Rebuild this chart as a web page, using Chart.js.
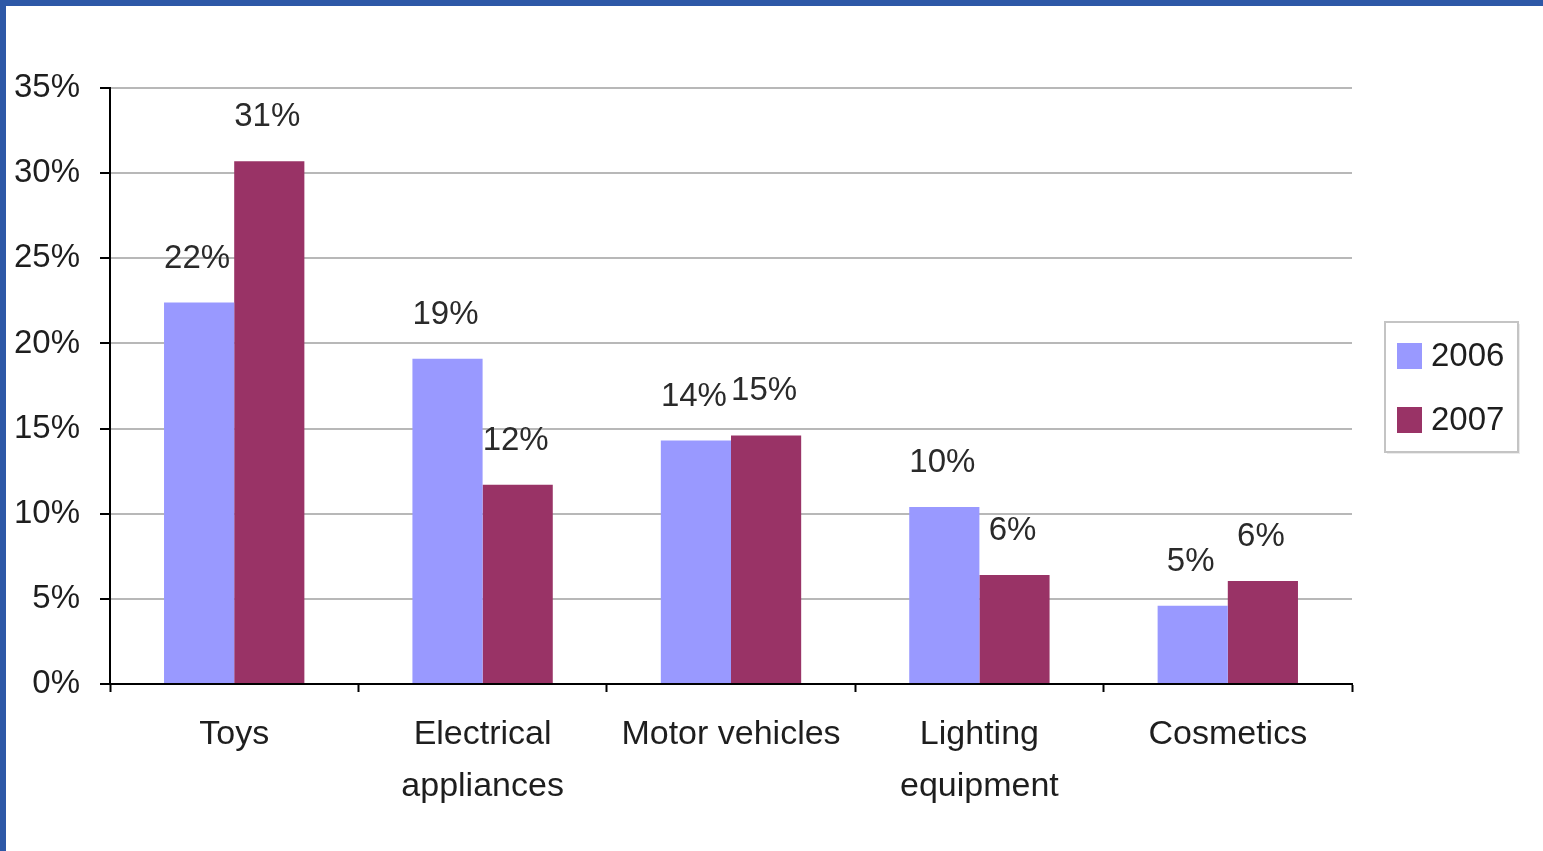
<!DOCTYPE html>
<html>
<head>
<meta charset="utf-8">
<script src="https://cdn.jsdelivr.net/npm/chart.js@4"></script>
<style>
  html, body { margin: 0; padding: 0; background: #fff; }
  #frame {
    width: 1537px; height: 845px;
    border-top: 6px solid #2d58a7;
    border-left: 6px solid #2d58a7;
    background: #fff;
  }
  canvas { display: block; }
</style>
</head>
<body>
<div id="frame"><canvas id="chart" width="1537" height="845"></canvas></div>
<script>
// categories and values
const categories = ["Toys", ["Electrical", "appliances"], "Motor vehicles", ["Lighting", "equipment"], "Cosmetics"];
const values2006 = [22.4, 19.1, 14.3, 10.4, 4.6];
const values2007 = [30.7, 11.7, 14.6, 6.4, 6.05];
const yTicks = [0, 5, 10, 15, 20, 25, 30, 35];

const FONT = "'Liberation Sans', Arial, sans-serif";

// Labels above each bar, e.g. "22%"
const barLabels = {
    id: 'barLabels',
    afterDatasetsDraw(chart) {
        const ctx = chart.ctx;
        ctx.save();
        ctx.font = '33px ' + FONT;
        ctx.fillStyle = '#2a2a2a';
        ctx.textAlign = 'center';
        ctx.textBaseline = 'middle';
        chart.data.datasets.forEach(function(ds, i) {
            chart.getDatasetMeta(i).data.forEach(function(bar, j) {
                ctx.fillText(Math.round(ds.data[j]) + '%', bar.x - 2, bar.y - 44);
            });
        });
        ctx.restore();
    }
};

// Boxed legend on the right, like the Excel one
const boxLegend = {
    id: 'boxLegend',
    afterDraw(chart) {
        const ctx = chart.ctx;
        const left = 1379, top = 316, w = 133, h = 130;
        ctx.save();
        ctx.fillStyle = 'rgba(0,0,0,0.08)';
        ctx.fillRect(left + 2, top + 2, w, h);
        ctx.fillStyle = '#fff';
        ctx.fillRect(left, top, w, h);
        ctx.strokeStyle = '#c4c4c4';
        ctx.lineWidth = 2;
        ctx.strokeRect(left, top, w, h);
        ctx.font = '33px ' + FONT;
        ctx.textBaseline = 'middle';
        chart.data.datasets.forEach(function(ds, i) {
            const cy = top + 34 + i * 64;
            ctx.fillStyle = ds.backgroundColor;
            ctx.fillRect(left + 12, cy - 13, 25, 26);
            ctx.fillStyle = '#1e1e1e';
            ctx.fillText(ds.label, left + 46, cy + 1);
        });
        ctx.restore();
    }
};

new Chart(document.getElementById('chart'), {
    type: 'bar',
    data: {
        labels: categories,
        datasets: [
            { label: '2006', data: values2006, backgroundColor: '#9999ff' },
            { label: '2007', data: values2007, backgroundColor: '#993366' }
        ]
    },
    options: {
        responsive: false,
        animation: false,
        events: [],
        categoryPercentage: 0.565,
        barPercentage: 1.0,
        layout: { padding: { top: 82, right: 191, bottom: 0, left: 0 } },
        plugins: {
            legend: { display: false },
            tooltip: { enabled: false }
        },
        scales: {
            x: {
                afterFit(scale) { scale.height = 167; },
                grid: {
                    offset: true,
                    drawOnChartArea: false,
                    tickLength: 8,
                    tickColor: '#000',
                    tickWidth: 2
                },
                border: { color: '#000', width: 2 },
                ticks: {
                    color: '#1e1e1e',
                    padding: 17,
                    maxRotation: 0,
                    autoSkip: false,
                    font: { family: FONT, size: 34, lineHeight: 1.52 }
                }
            },
            y: {
                min: 0,
                max: 35,
                afterFit(scale) { scale.width = 104; },
                afterBuildTicks(scale) {
                    scale.ticks = yTicks.map(function(v) { return { value: v }; });
                },
                grid: {
                    color: '#b8b8b8',
                    lineWidth: 2,
                    tickLength: 10,
                    tickColor: '#000',
                    tickWidth: 2
                },
                border: { color: '#000', width: 2 },
                ticks: {
                    color: '#1e1e1e',
                    padding: 20,
                    font: { family: FONT, size: 33 },
                    callback: function(v) { return v + '%'; }
                }
            }
        }
    },
    plugins: [barLabels, boxLegend]
});
</script>
</body>
</html>
